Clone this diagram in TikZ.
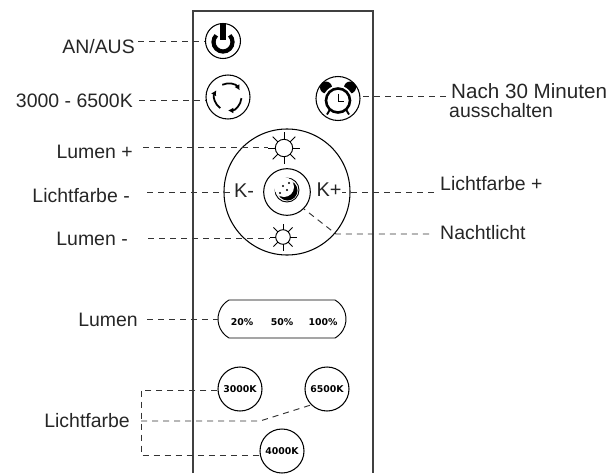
\documentclass[tikz,border=0pt]{standalone}
\usepackage{fontspec}
\setmainfont{Liberation Sans}
\newfontfamily\btnfont{DejaVu Sans Bold}
\usetikzlibrary{arrows.meta, positioning, calc, shapes.misc}

\tikzset{
    lbl/.style={inner sep=0pt, text=black!85, font=\fontsize{16.6}{18}\selectfont},
    btn/.style={draw, circle, line width=0.9pt, inner sep=0pt, font=\btnfont\fontsize{8}{8}\selectfont},
    leader/.style={dash pattern=on 5.2pt off 4.2pt, line width=0.8pt, black!80},
    keytxt/.style={inner sep=0pt, font=\btnfont\fontsize{8}{8}\selectfont},
    icon/.style={line width=0.8pt}
}

\begin{document}
\begin{tikzpicture}[x=0.03cm,y=-0.03cm]
    \useasboundingbox (0,0) rectangle (614,473);

    % Remote body
    \draw[line width=1.2pt, black!75] (193,473) -- (193,11) -- (373,11) -- (373,473);

    % Top buttons
    \node[btn, minimum size=1.05cm] (power) at (223,41) {};
    \node[btn, minimum size=1.32cm] (cycle) at (228,97) {};
    \node[btn, minimum size=1.32cm] (alarm) at (338,98.5) {};

    % Power icon
    \draw[line width=3.6pt] (216.3,35.3) arc[start angle=225, end angle=-45, radius=9.5];
    \draw[line width=4.6pt] (223,24) -- (223,40);

    % Cycle icon
    \foreach \a in {-115,5,125}
        \draw[line width=1.5pt, -{Latex[length=4.5pt,width=5pt]}]
            ($(cycle)+(\a:13.5)$) arc[start angle=\a, end angle=\a+85, radius=13.5];

    % Alarm icon
    \fill ($(alarm)+(-12,-11)$) circle[radius=6];
    \fill ($(alarm)+(12,-11)$) circle[radius=6];
    \fill[white] ($(alarm)+(0,2)$) circle[radius=15];
    \draw[line width=2.2pt] ($(alarm)+(0,2)$) circle[radius=12];
    \draw[icon] ($(alarm)+(0,-5)$) -- ($(alarm)+(0,3)$) -- ($(alarm)+(6,3)$);
    \draw[line width=1.6pt] ($(alarm)+(-8,11)$) -- ($(alarm)+(-11,16)$);
    \draw[line width=1.6pt] ($(alarm)+(8,11)$) -- ($(alarm)+(11,16)$);

    % Round pad
    \node[btn, minimum size=3.78cm] (pad) at (287,192) {};
    \node[btn, minimum size=1.4cm] (night) at (287,192) {};
    \node[inner sep=0pt, minimum size=0.96cm] (suntop) at (284,148) {};
    \node[inner sep=0pt, minimum size=0.81cm] (sunbot) at (283,237) {};
    \draw[icon] (suntop) circle[radius=8.7];
    \draw[icon] (sunbot) circle[radius=7.3];
    \foreach \a in {0,45,...,315} {
        \draw[icon] ($(suntop)+(\a:8.7)$) -- ($(suntop)+(\a:16)$);
        \draw[icon] ($(sunbot)+(\a:7.3)$) -- ($(sunbot)+(\a:13.5)$);
    }
    \node[lbl, font=\fontsize{17}{17}\selectfont] (kminus) at (244,191) {K-};
    \node[lbl, font=\fontsize{17}{17}\selectfont] (kplus) at (329,190) {K+};

    % Moon icon
    \draw[icon] (287,190) circle[radius=12];
    \fill (287.5,190.5) circle[radius=10];
    \fill[white] (284,187) circle[radius=10];
    \foreach \p in {(280,193),(283,186),(287,190),(289,183)}
        \fill \p circle[radius=1.2];

    % Lumen pill
    \node[draw, line width=0.8pt, rounded rectangle, rounded rectangle arc length=120, inner sep=0pt,
          minimum width=3.84cm, minimum height=1.14cm] (pill) at (282,319) {};
    \node[keytxt] (p20) at (242,322) {20\%};
    \node[keytxt] (p50) at (282,322) {50\%};
    \node[keytxt] (p100) at (323,322) {100\%};

    % Colour buttons
    \node[btn, minimum size=1.32cm] (k3000) at (240,389) {3000K};
    \node[btn, minimum size=1.32cm] (k6500) at (327,389) {6500K};
    \node[btn, minimum size=1.32cm] (k4000) at (282,451) {4000K};

    % Labels
    \node[lbl, anchor=east] (lblpower) at (135,47) {AN/AUS};
    \node[lbl, anchor=east] (lblcycle) at (133,101) {3000 - 6500K};
    \node[lbl, anchor=west, font=\fontsize{17.6}{18}\selectfont] (lblalarm) at (451,91) {Nach 30 Minuten};
    \node[lbl, anchor=west] (lblalarmb) at (449,111) {ausschalten};
    \node[lbl, anchor=east] (lblplus) at (133,152) {Lumen +};
    \node[lbl, anchor=east] (lblkminus) at (130,196) {Lichtfarbe -};
    \node[lbl, anchor=east] (lblminus) at (128,239) {Lumen -};
    \node[lbl, anchor=west] (lblkplus) at (440,184) {Lichtfarbe +};
    \node[lbl, anchor=west] (lblnight) at (440,233) {Nachtlicht};
    \node[lbl, anchor=east] (lbllumen) at (138,320) {Lumen};
    \node[lbl, anchor=east] (lblcolour) at (130,421) {Lichtfarbe};

    % Leader lines
    \coordinate (stpower) at (138,41);
    \draw[leader] (stpower) -- (power.west);
    \coordinate (stcycle) at (139,100);
    \draw[leader] (stcycle) -- (cycle.west |- stcycle);
    \coordinate (stalarm) at (446,96);
    \draw[leader] (stalarm) -- (alarm.east |- stalarm);
    \coordinate (stplus) at (143,147);
    \draw[leader] (stplus) -- (suntop.west |- stplus);
    \coordinate (stkminus) at (147,192);
    \draw[leader] (stkminus) -- (kminus.west |- stkminus);
    \coordinate (stminus) at (148,238);
    \draw[leader] (stminus) -- (sunbot.west |- stminus);
    \coordinate (stkplus) at (434,192);
    \draw[leader] (stkplus) -- (kplus.east |- stkplus);
    \coordinate (stnight) at (429,234);
    \coordinate (bendnight) at (336,234);
    \draw[leader] (stnight) -- (bendnight) -- (night.south east);
    \coordinate (stlumen) at (147,319);
    \draw[leader] (stlumen) -- (pill.west |- stlumen);

    \coordinate (bendtop) at (141,390);
    \coordinate (bendmid) at (141,421);
    \coordinate (bendbot) at (141,455);
    \coordinate (bendsix) at (260,421);
    \draw[leader] (k3000.west |- bendtop) -- (bendtop) -- (bendbot) -- (k4000.west |- bendbot);
    \draw[leader] (bendmid) -- (bendsix) -- (k6500.south west);
\end{tikzpicture}
\end{document}
